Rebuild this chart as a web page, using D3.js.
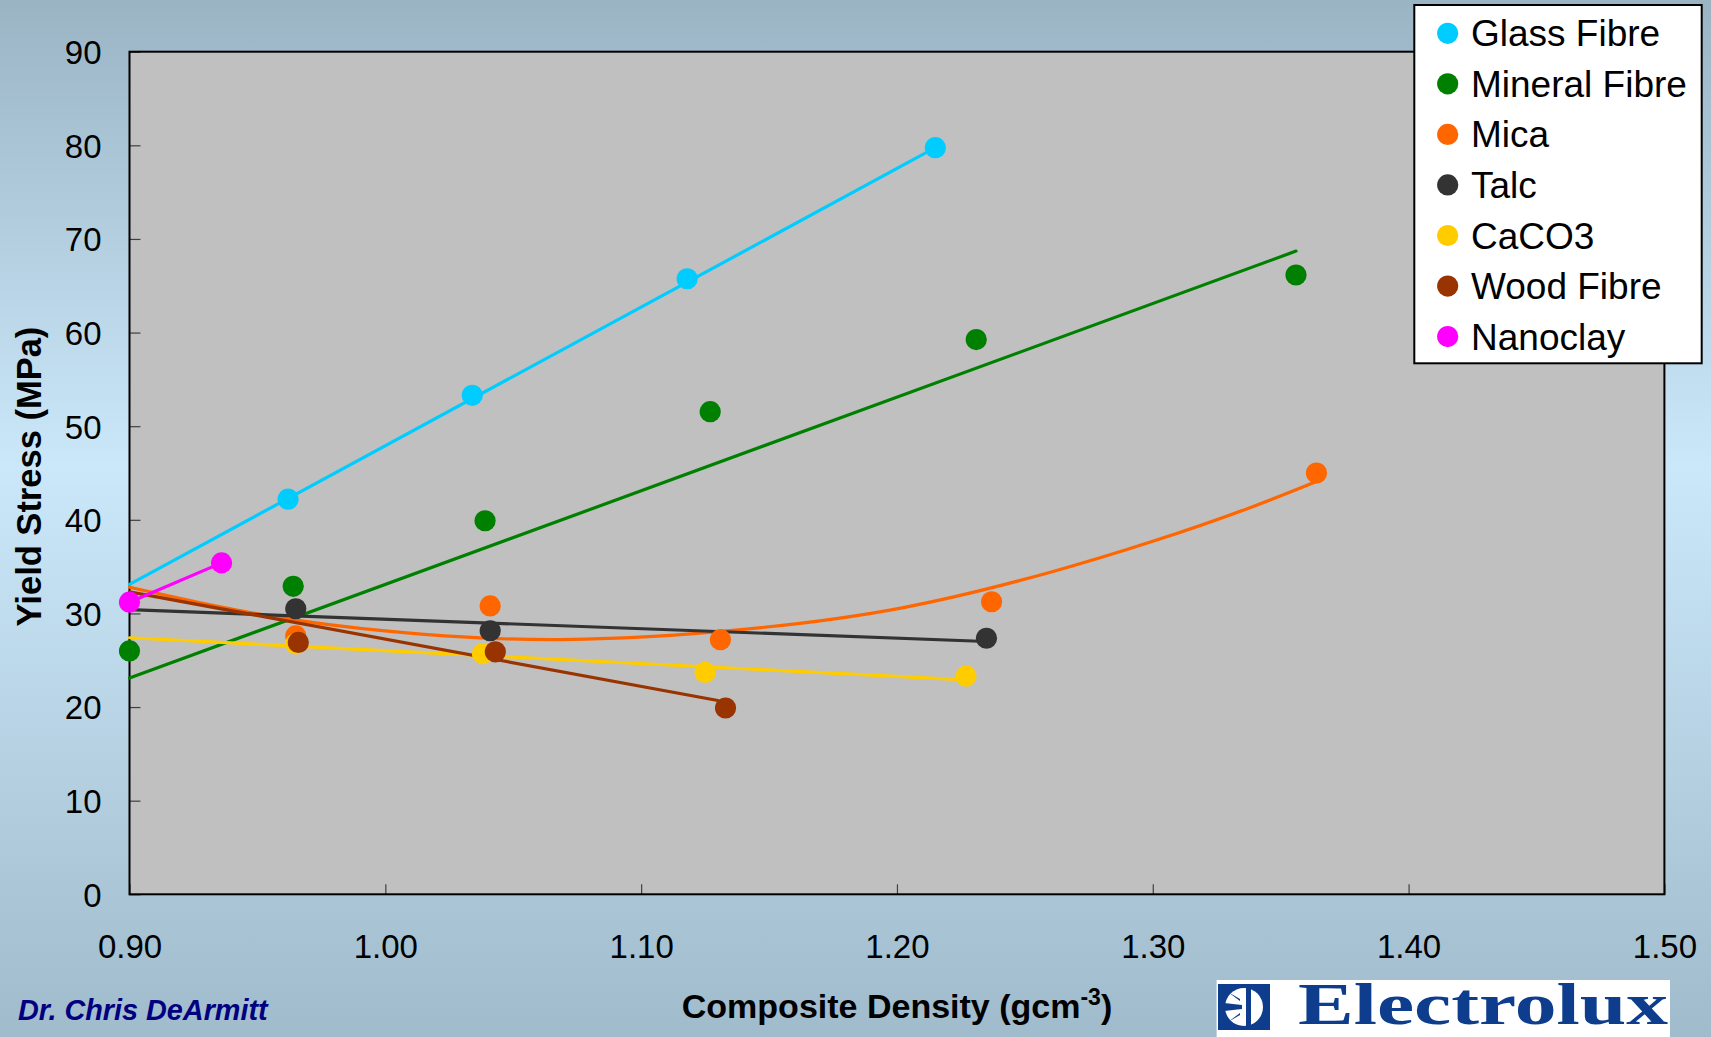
<!DOCTYPE html>
<html>
<head>
<meta charset="utf-8">
<script src="https://cdn.jsdelivr.net/npm/d3@7"></script>
<style>
  html, body { margin: 0; padding: 0; overflow: hidden; }
  svg { display: block; }
</style>
</head>
<body>
<svg id="chart" width="1711" height="1037"></svg>
<script>
// ---- Data -------------------------------------------------------------
const seriesNames  = ["Glass Fibre", "Mineral Fibre", "Mica", "Talc", "CaCO3", "Wood Fibre", "Nanoclay"];
const seriesColors = ["#00ccff", "#008000", "#ff6600", "#333333", "#ffcc00", "#993300", "#ff00ff"];

// measured points: density (g/cm3) and yield stress (MPa)
const glassDensity    = [0.962, 1.034, 1.118, 1.215];
const glassStress     = [42.2, 53.3, 65.75, 79.75];
const mineralDensity  = [0.900, 0.964, 1.039, 1.127, 1.231, 1.356];
const mineralStress   = [26.0, 32.9, 39.9, 51.55, 59.25, 66.15];
const micaDensity     = [0.965, 1.041, 1.131, 1.237, 1.364];
const micaStress      = [27.6, 30.8, 27.2, 31.25, 45.0];
const talcDensity     = [0.965, 1.041, 1.235];
const talcStress      = [30.5, 28.15, 27.35];
const caco3Density    = [0.965, 1.038, 1.125, 1.227];
const caco3Stress     = [26.75, 25.7, 23.7, 23.3];
const woodDensity     = [0.966, 1.043, 1.133];
const woodStress      = [26.9, 25.9, 19.9];
const nanoclayDensity = [0.900, 0.936];
const nanoclayStress  = [31.2, 35.4];

// trend lines: [density, stress] vertices
const glassTrend    = [[0.900, 33.1], [1.215, 79.75]];
const mineralTrend  = [[0.900, 23.1], [1.356, 68.7]];
const micaTrend     = [[0.900, 32.8], [0.967, 29.2], [1.014, 27.8], [1.065, 27.2], [1.084, 27.3],
                       [1.123, 27.9], [1.202, 30.6], [1.260, 34.4], [1.300, 37.7], [1.338, 41.3], [1.364, 44.1]];
const talcTrend     = [[0.900, 30.4], [1.235, 27.0]];
const caco3Trend    = [[0.900, 27.4], [1.227, 22.9]];
const woodTrend     = [[0.900, 32.3], [1.130, 20.7]];
const nanoclayTrend = [[0.900, 31.2], [0.936, 35.4]];

const xTickValues = [0.90, 1.00, 1.10, 1.20, 1.30, 1.40, 1.50];
const yTickValues = [0, 10, 20, 30, 40, 50, 60, 70, 80, 90];

const xTitle = "Composite Density (gcm";
const xTitleSup = "-3";
const yTitle = "Yield Stress (MPa)";
const authorText = "Dr. Chris DeArmitt";
const brandText = "Electrolux";

// ---- Build series table -------------------------------------------------
const densities = [glassDensity, mineralDensity, micaDensity, talcDensity, caco3Density, woodDensity, nanoclayDensity];
const stresses  = [glassStress, mineralStress, micaStress, talcStress, caco3Stress, woodStress, nanoclayStress];
const trends    = [glassTrend, mineralTrend, micaTrend, talcTrend, caco3Trend, woodTrend, nanoclayTrend];
const series = seriesNames.map((name, i) => ({
  name, color: seriesColors[i],
  points: densities[i].map((d, j) => [d, stresses[i][j]]),
  trend: trends[i]
}));

// ---- Layout -------------------------------------------------------------
const W = 1711, H = 1037;
const plot = { left: 129.5, right: 1664.4, top: 51.7, bottom: 894.3 };
const FONT = "Arial, 'Liberation Sans', Helvetica, sans-serif";

const svg = d3.select("#chart");
const defs = svg.append("defs");
const bg = defs.append("linearGradient").attr("id", "bgGrad")
  .attr("x1", 0).attr("y1", 0).attr("x2", 0).attr("y2", 1);
bg.append("stop").attr("offset", "0%").attr("stop-color", "#9ab4c4");
bg.append("stop").attr("offset", "45%").attr("stop-color", "#cbe8fa");
bg.append("stop").attr("offset", "100%").attr("stop-color", "#a0bbcb");

svg.append("rect").attr("width", W).attr("height", H).attr("fill", "url(#bgGrad)");

const x = d3.scaleLinear().domain([0.9, 1.5]).range([plot.left, plot.right]);
const y = d3.scaleLinear().domain([0, 90]).range([plot.bottom, plot.top]);

// plot area
svg.append("rect")
  .attr("x", plot.left).attr("y", plot.top)
  .attr("width", plot.right - plot.left).attr("height", plot.bottom - plot.top)
  .attr("fill", "#c0c0c0");

// axes with inward ticks
const xAxis = d3.axisBottom(x).tickValues(xTickValues).tickFormat(d3.format(".2f"))
  .tickSize(-10).tickPadding(40);
const yAxis = d3.axisLeft(y).tickValues(yTickValues).tickFormat(d3.format("d"))
  .tickSize(-11).tickPadding(28);

const gx = svg.append("g").attr("transform", `translate(0,${plot.bottom})`).call(xAxis);
const gy = svg.append("g").attr("transform", `translate(${plot.left},0)`).call(yAxis);
[gx, gy].forEach(g => {
  g.select(".domain").remove();
  g.selectAll(".tick line").attr("stroke", "#404040").attr("stroke-width", 1.2);
  g.selectAll(".tick text").attr("font-family", FONT).attr("font-size", 33).attr("fill", "#000");
});
gy.selectAll(".tick text").attr("dy", "0.36em");

// plot frame
svg.append("rect")
  .attr("x", plot.left).attr("y", plot.top)
  .attr("width", plot.right - plot.left).attr("height", plot.bottom - plot.top)
  .attr("fill", "none").attr("stroke", "#000").attr("stroke-width", 2);

const dataG = svg.append("g");
const line = d3.line().x(d => x(d[0])).y(d => y(d[1]));
const curve = d3.line().x(d => x(d[0])).y(d => y(d[1])).curve(d3.curveMonotoneX);

dataG.selectAll("path.trend").data(series).join("path")
  .attr("class", "trend")
  .attr("d", s => (s.trend.length > 2 ? curve : line)(s.trend))
  .attr("fill", "none")
  .attr("stroke", s => s.color)
  .attr("stroke-width", 3.2)
  .attr("stroke-linecap", "round");

series.forEach(s => {
  dataG.selectAll(null).data(s.points).join("circle")
    .attr("cx", d => x(d[0])).attr("cy", d => y(d[1]))
    .attr("r", 10.6).attr("fill", s.color);
});

// axis titles
svg.append("text")
  .attr("transform", `translate(41,476.5) rotate(-90)`)
  .attr("text-anchor", "middle")
  .attr("font-family", FONT).attr("font-weight", "bold").attr("font-size", 34.5)
  .attr("fill", "#000").text(yTitle);

const xt = svg.append("text")
  .attr("x", 897).attr("y", 1018)
  .attr("text-anchor", "middle")
  .attr("font-family", FONT).attr("font-weight", "bold").attr("font-size", 34)
  .attr("fill", "#000");
xt.append("tspan").text(xTitle);
xt.append("tspan").attr("font-size", 23).attr("dy", -13).text(xTitleSup);
xt.append("tspan").attr("dy", 13).text(")");

// author
svg.append("text")
  .attr("x", 18).attr("y", 1020)
  .attr("font-family", FONT).attr("font-weight", "bold").attr("font-style", "italic")
  .attr("font-size", 28.8).attr("fill", "#000080").text(authorText);

// brand block
const brand = svg.append("g");
brand.append("rect").attr("x", 1216.6).attr("y", 980).attr("width", 453.4).attr("height", 60).attr("fill", "#fff");
const ex = 1218, ey = 984, es = 52;
brand.append("rect").attr("x", ex).attr("y", ey).attr("width", es).attr("height", 46).attr("fill", "#0d3d8c");
const ecx = ex + es / 2, ecy = ey + 23;
brand.append("circle").attr("cx", ecx).attr("cy", ecy).attr("r", 19).attr("fill", "#fff");
brand.append("rect").attr("x", ecx + 2).attr("y", ecy - 20).attr("width", 5).attr("height", 40).attr("fill", "#0d3d8c");
brand.append("path")
  .attr("d", `M${ecx - 20},${ecy - 4} L${ecx - 2},${ecy - 2} L${ecx - 2},${ecy + 2} L${ecx - 20},${ecy + 4} Z`)
  .attr("fill", "#0d3d8c");
brand.append("path")
  .attr("d", `M${ecx - 16},${ecy - 15} L${ecx - 4},${ecy - 8} L${ecx - 4},${ecy - 6} Z M${ecx - 16},${ecy + 15} L${ecx - 4},${ecy + 8} L${ecx - 4},${ecy + 6} Z`)
  .attr("fill", "#0d3d8c");
brand.append("text")
  .attr("x", 1298).attr("y", 1024)
  .attr("font-family", "'Liberation Serif', 'DejaVu Serif', serif").attr("font-weight", "bold")
  .attr("font-size", 60).attr("fill", "#0d3d8c")
  .attr("textLength", 370).attr("lengthAdjust", "spacingAndGlyphs")
  .text(brandText);

// legend
const leg = svg.append("g");
leg.append("rect").attr("x", 1414.3).attr("y", 5).attr("width", 287.4).attr("height", 358.3)
  .attr("fill", "#fff").attr("stroke", "#000").attr("stroke-width", 2);
const rows = leg.selectAll("g.row").data(series).join("g")
  .attr("class", "row")
  .attr("transform", (d, i) => `translate(0,${33.3 + i * 50.55})`);
rows.append("circle").attr("cx", 1447.7).attr("cy", 0).attr("r", 10.6).attr("fill", d => d.color);
rows.append("text").attr("x", 1471).attr("y", 13)
  .attr("font-family", FONT).attr("font-size", 37).attr("fill", "#000")
  .text(d => d.name);
</script>
</body>
</html>
